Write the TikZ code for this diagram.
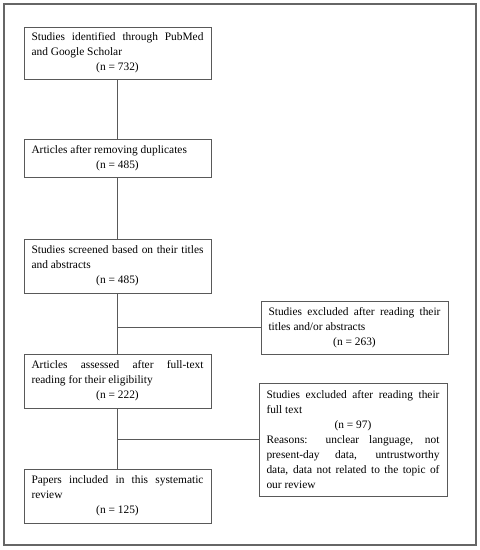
\documentclass[tikz,border=0pt]{standalone}
\usepackage{fontspec}
\setmainfont{Liberation Serif}
\newcommand{\ncount}[1]{\par{\centering #1\par}}
\newcommand{\nohyph}{\hyphenpenalty=10000 \exhyphenpenalty=10000 \relax}
\begin{document}
\begin{tikzpicture}[x=1pt,y=-1pt,
  flowbox/.style={draw=black!65, line width=0.9pt, fill=white, inner xsep=7.5pt, inner ysep=2pt,
    font=\fontsize{11.4pt}{15pt}\selectfont, align=justify},
  link/.style={draw=black!65, line width=0.9pt}]
\useasboundingbox[fill=white] (0,0) rectangle (480,550);
\draw[black!60, line width=1.3pt] (4,4) rectangle (476,545);
\node[flowbox, minimum width=187pt, minimum height=52pt, text width=172pt] (b1) at (117.5,53)
  {\nohyph Studies identified through PubMed\linebreak and Google Scholar\ncount{(n = 732)}};
\node[flowbox, minimum width=187pt, minimum height=38pt, text width=172pt] (b2) at (117.5,158)
  {\nohyph Articles after removing duplicates\ncount{(n = 485)}};
\node[flowbox, minimum width=187pt, minimum height=54pt, text width=172pt] (b3) at (117.5,266)
  {\nohyph Studies screened based on their titles\linebreak and abstracts\ncount{(n = 485)}};
\node[flowbox, minimum width=187pt, minimum height=54pt, text width=172pt] (b4) at (117.5,381)
  {\nohyph Articles assessed after full-text\linebreak reading for their eligibility\ncount{(n = 222)}};
\node[flowbox, minimum width=187pt, minimum height=54pt, text width=172pt] (b5) at (117.5,496)
  {\nohyph Papers included in this systematic\linebreak review\ncount{(n = 125)}};
\node[flowbox, minimum width=187pt, minimum height=53pt, text width=172pt] (r1) at (354.5,327.5)
  {\nohyph Studies excluded after reading their\linebreak titles and/or abstracts\ncount{(n = 263)}};
\node[flowbox, minimum width=188pt, minimum height=113pt, text width=173pt] (r2) at (353,439.5)
  {\nohyph Studies excluded after reading their\linebreak full text\ncount{(n = 97)}Reasons: unclear language, not\linebreak present-day data, untrustworthy\linebreak data, data not related to the topic of\linebreak our review};
\draw[link] (b1) -- (b2);
\draw[link] (b2) -- (b3);
\draw[link] (b3) -- (b4);
\draw[link] (b4) -- (b5);
\draw[link] (r1.west) -- (r1.west -| b3.south);
\draw[link] (r2.west) -- (r2.west -| b4.south);
\end{tikzpicture}
\end{document}
